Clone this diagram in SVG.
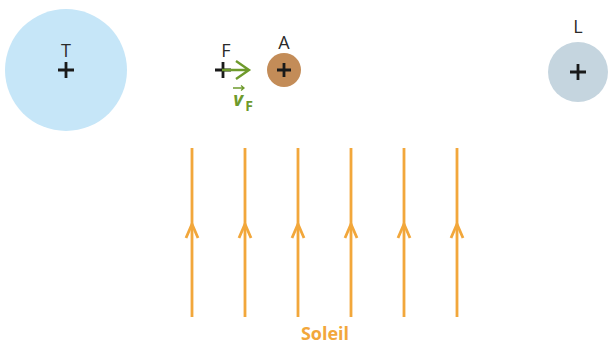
<svg xmlns="http://www.w3.org/2000/svg" width="608" height="347" viewBox="0 0 608 347">
<style>
.lbl{font-family:"Open Sans","Liberation Sans",sans-serif;font-size:18px;fill:#2a2a2a;text-anchor:middle}
.plus{stroke:#1a1a1a;stroke-width:2.8;fill:none}
.ray{stroke:#f2a73b;stroke-width:2.8;fill:none}
.head{stroke:#f2a73b;stroke-width:2.8;fill:none;stroke-linejoin:miter}
.green{stroke:#6e9a2c;stroke-width:2.4;fill:none}
</style>
<rect width="608" height="347" fill="#fff"/>
<g id="T">
<circle cx="66" cy="70" r="61" fill="#c6e6f8"/>
<text class="lbl" x="66" y="57">T</text>
<path class="plus" d="M58 70h16M66 62v16"/>
</g>
<g id="F">
<text class="lbl" x="226" y="57">F</text>
<path class="plus" d="M215 70h16M223 62v16"/>
</g>
<g id="vF">
<path class="green" d="M222 70h27M236 61l13 9l-13 9"/>
<text x="238" y="106" font-family="'Open Sans','Liberation Sans',sans-serif" font-size="19" font-style="italic" font-weight="bold" fill="#6e9a2c" text-anchor="middle">v</text>
<text x="249" y="111" font-family="'Open Sans','Liberation Sans',sans-serif" font-size="14" font-weight="bold" fill="#6e9a2c" text-anchor="middle">F</text>
<path d="M233 88h11M241 85.5l3 2.5l-3 2.5" stroke="#6e9a2c" stroke-width="1.3" fill="none"/>
</g>
<g id="A">
<circle cx="284" cy="70" r="17" fill="#c38c58"/>
<text class="lbl" x="284" y="49">A</text>
<path class="plus" d="M277 70h14M284 63v14"/>
</g>
<g id="L">
<circle cx="578" cy="72" r="30" fill="#c5d5df"/>
<text class="lbl" x="578" y="33">L</text>
<path class="plus" d="M570 72h16M578 64v16"/>
</g>
<g id="connectors">
<path class="ray" d="M192 148V317M245 148V317M298 148V317M351 148V317M404 148V317M457 148V317"/>
<g class="head">
<path d="M186 238l6-14l6 14"/>
<path d="M239 238l6-14l6 14"/>
<path d="M292 238l6-14l6 14"/>
<path d="M345 238l6-14l6 14"/>
<path d="M398 238l6-14l6 14"/>
<path d="M451 238l6-14l6 14"/>
</g>
</g>
<g id="Soleil">
<text x="325" y="340" font-family="'Open Sans','Liberation Sans',sans-serif" font-size="18" font-weight="bold" fill="#f2a73b" text-anchor="middle">Soleil</text>
</g>
</svg>
